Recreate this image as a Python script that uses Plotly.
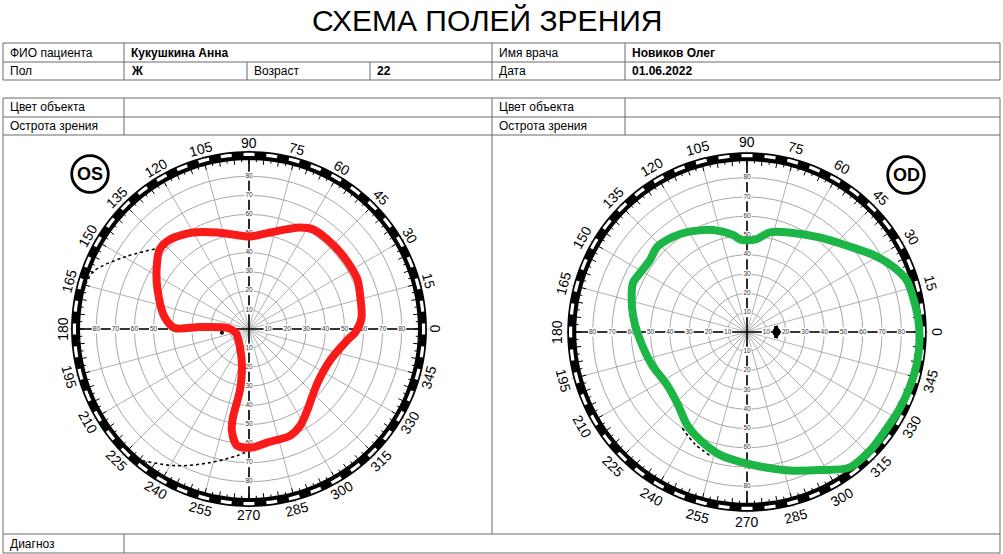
import math
import plotly.graph_objects as go

W, H = 1003, 554

# ---------------- data ----------------
TITLE = "СХЕМА ПОЛЕЙ ЗРЕНИЯ"
row1 = [("ФИО пациента", False), ("Кукушкина Анна", True), ("Имя врача", False), ("Новиков Олег", True)]
row2 = [("Пол", False), ("Ж", True), ("Возраст", False), ("22", True), ("Дата", False), ("01.06.2022", True)]
row_obj = "Цвет объекта"
row_acuity = "Острота зрения"
row_diag = "Диагноз"

angle_labels = list(range(0, 360, 15))
radial_labels = [10, 20, 30, 40, 50, 60, 70, 80]
axis_angles = [0, 90, 180, 270]

# OS (left eye) field boundary
os_theta = [89.4, 77.7, 63.2, 57.1, 48.8, 39.9, 31.5, 24.4, 14.6, 5.6, 358.4, 353.6, 339.1, 321.5,
            305.6, 298.0, 291.1, 279.0, 271.5, 264.1, 260.4, 259.7, 261.6, 259.6, 243.4, 197.0,
            177.3, 177.7, 179.2, 171.9, 156.8, 147.3, 138.4, 131.6, 120.3, 108.4, 99.7, 89.4]
os_r = [48.4, 51.7, 59.5, 62.0, 62.3, 62.4, 62.4, 62.4, 60.4, 59.2, 55.8, 51.9, 45.6, 45.7,
        52.4, 57.2, 59.8, 60.2, 62.1, 61.4, 53.9, 47.1, 32.5, 20.3, 10.6, 7.2,
        11.1, 25.8, 39.0, 44.7, 52.1, 57.5, 62.6, 62.6, 58.5, 53.3, 50.2, 48.4]
os_dot1_theta = [135, 149.4, 160.2, 166.6]
os_dot1_r = [61, 74.6, 87.2, 88.7]
os_dot2_theta = [231, 242.1, 253.7, 264.6, 270]
os_dot2_r = [88.7, 81, 72.9, 66.6, 63.7]
os_spot_theta = [188]
os_spot_r = [14.3]

# OD (right eye) field boundary
od_theta = [94, 85, 77, 67, 52, 40, 31, 24, 18, 11, 4, 357, 349, 341, 333, 325, 317, 307, 298,
            287, 275.5, 267, 257.6, 246.5, 237.2, 226.6, 213.5, 199.2, 187.1, 176.4, 167.7, 156.7,
            151.1, 143.4, 136.6, 127.9, 121, 108.4, 98.2, 94]
od_r = [48, 48, 53, 56, 62, 69, 77, 83, 87, 88, 89, 89.5, 89.5, 89, 88.5, 88, 88.5, 88, 81,
        75, 70, 67.4, 65.2, 61, 57.3, 52, 49.7, 52.1, 54.8, 58.1, 61, 64.3,
        63.3, 62.6, 64.1, 62.4, 60.4, 55.7, 50.8, 48]
od_dot_theta = [236, 245, 254]
od_dot_r = [60, 64, 67]
od_spot_theta = [348, 354, 0, 6, 12]
od_spot_r = [15.3, 15.3, 15.3, 15.3, 15.3]

# ---------------- geometry (pixels) ----------------
R_MAX = 94
R_EXT = 112
charts = [
    dict(cx=249, cy=329, s=1.91, polar="polar", xa="x", ya="y", lab_r=97.5,
         theta=os_theta, r=os_r, color="#f91a1a",
         dots=[(os_dot1_theta, os_dot1_r), (os_dot2_theta, os_dot2_r)],
         spot=(os_spot_theta, os_spot_r), badge="OS", bx=90, by=174),
    dict(cx=747, cy=332, s=1.93, polar="polar2", xa="x2", ya="y2", lab_r=98.5,
         theta=od_theta, r=od_r, color="#1db546",
         dots=[(od_dot_theta, od_dot_r)],
         spot=(od_spot_theta, od_spot_r), badge="OD", bx=906, by=175),
]


def fx(x):
    return x / W


def fy(y):
    return 1 - y / H


fig = go.Figure()
layout_extra = {}
annotations = []
shapes = []

# ring decorations
tick_r, tick_t = [], []
for k in range(144):
    a = k * 2.5
    r0 = 86.3 if k % 2 == 0 else 87.4
    tick_r += [r0, 88.6, None]
    tick_t += [a, a, None]
dash_r, dash_t = [], []
for k in range(48):
    c = k * 7.5
    for d in (-1.8, -0.9, 0, 0.9, 1.8):
        dash_r.append(91.4)
        dash_t.append(c + d)
    dash_r.append(None)
    dash_t.append(None)
ring_t = list(range(0, 362, 2))
ring_r = [90.8] * len(ring_t)

cross_r, cross_t = [], []
for a in axis_angles:
    cross_r += [0, 88.6, None]
    cross_t += [a, a, None]

lab_r, lab_t, lab_txt = [], [], []
for a in axis_angles:
    for v in radial_labels:
        lab_r.append(v)
        lab_t.append(a)
        lab_txt.append(str(v))

for ch in charts:
    sp = ch["polar"]
    common = dict(subplot=sp, showlegend=False, hoverinfo="skip")
    fig.add_trace(go.Scatterpolar(r=cross_r, theta=cross_t, mode="lines",
                                  line=dict(color="black", width=1.6), **common))
    fig.add_trace(go.Scatterpolar(r=lab_r, theta=lab_t, mode="markers+text", text=lab_txt,
                                  textposition="middle center",
                                  textfont=dict(size=6.5, color="#333333", family="Liberation Sans"),
                                  marker=dict(symbol="square", size=9, color="white"), **common))
    fig.add_trace(go.Scatterpolar(r=tick_r, theta=tick_t, mode="lines",
                                  line=dict(color="black", width=1), **common))
    fig.add_trace(go.Scatterpolar(r=ring_r, theta=ring_t, mode="lines",
                                  line=dict(color="black", width=9), **common))
    fig.add_trace(go.Scatterpolar(r=dash_r, theta=dash_t, mode="lines",
                                  line=dict(color="white", width=3.2), **common))
    for dt, dr in ch["dots"]:
        fig.add_trace(go.Scatterpolar(r=dr, theta=dt, mode="lines",
                                      line=dict(color="black", width=1.6, dash="dot", shape="spline"),
                                      **common))
    fig.add_trace(go.Scatterpolar(r=ch["r"], theta=ch["theta"], mode="lines",
                                  line=dict(color=ch["color"], width=8, shape="spline", smoothing=0.8),
                                  **common))
    st, srr = ch["spot"]
    if len(st) > 1:
        fig.add_trace(go.Scatterpolar(r=srr, theta=st, mode="lines",
                                      line=dict(color="black", width=4), **common))
        fig.add_trace(go.Scatterpolar(r=[srr[len(srr) // 2]], theta=[st[len(st) // 2]], mode="markers",
                                      marker=dict(color="black", size=8), **common))
    else:
        fig.add_trace(go.Scatterpolar(r=srr, theta=st, mode="markers",
                                      marker=dict(color="black", size=4), **common))

    cx, cy, s = ch["cx"], ch["cy"], ch["s"]
    hp = R_MAX * s
    layout_extra[sp] = dict(
        domain=dict(x=[fx(cx - hp), fx(cx + hp)], y=[fy(cy + hp), fy(cy - hp)]),
        bgcolor="rgba(0,0,0,0)",
        radialaxis=dict(range=[0, R_MAX], tickvals=radial_labels, showticklabels=False, ticks="",
                        showline=False, gridcolor="#a8a8a8", gridwidth=0.9),
        angularaxis=dict(tickvals=angle_labels, showticklabels=False, ticks="", showline=False,
                         gridcolor="#b0b0b0", gridwidth=0.9),
    )
    he = R_EXT * s
    xa_name = "xaxis" if ch["xa"] == "x" else "xaxis2"
    ya_name = "yaxis" if ch["ya"] == "y" else "yaxis2"
    layout_extra[xa_name] = dict(domain=[fx(cx - he), fx(cx + he)], range=[-R_EXT, R_EXT],
                                 visible=False, fixedrange=True)
    layout_extra[ya_name] = dict(domain=[fy(cy + he), fy(cy - he)], range=[-R_EXT, R_EXT],
                                 visible=False, fixedrange=True)
    fig.add_trace(go.Scatter(x=[], y=[], xaxis=ch["xa"], yaxis=ch["ya"], showlegend=False))

    for a in angle_labels:
        rad = math.radians(a)
        ang = 90 - a if a <= 180 else 270 - a
        annotations.append(dict(x=ch["lab_r"] * math.cos(rad), y=ch["lab_r"] * math.sin(rad),
                                xref=ch["xa"], yref=ch["ya"], text=str(a), showarrow=False,
                                textangle=ang, xanchor="center", yanchor="middle",
                                font=dict(size=14, color="black", family="Liberation Sans")))
    # badge
    br = 18.3
    shapes.append(dict(type="circle", xref="paper", yref="paper",
                       x0=fx(ch["bx"] - br), x1=fx(ch["bx"] + br),
                       y0=fy(ch["by"] + br), y1=fy(ch["by"] - br),
                       line=dict(color="black", width=2.8)))
    annotations.append(dict(x=fx(ch["bx"]), y=fy(ch["by"]), xref="paper", yref="paper",
                            text="<b>%s</b>" % ch["badge"], showarrow=False,
                            xanchor="center", yanchor="middle",
                            font=dict(size=18, color="black", family="Liberation Sans")))

# ---------------- table ----------------
LC = "#6a6a6a"


def hline(y, x0=3, x1=1000):
    shapes.append(dict(type="line", xref="paper", yref="paper", x0=fx(x0), x1=fx(x1),
                       y0=fy(y), y1=fy(y), line=dict(color=LC, width=1)))


def vline(x, y0, y1):
    shapes.append(dict(type="line", xref="paper", yref="paper", x0=fx(x), x1=fx(x),
                       y0=fy(y0), y1=fy(y1), line=dict(color=LC, width=1)))


for y in (43, 62, 80):
    hline(y)
for x in (3, 124, 492, 625, 1000):
    vline(x, 43, 80)
for x in (247, 370):
    vline(x, 62, 80)
for y in (98, 117, 135, 534, 553):
    hline(y)
vline(3, 98, 553)
vline(1000, 98, 553)
vline(124, 98, 135)
vline(124, 534, 553)
vline(625, 98, 135)
vline(492, 98, 534)


def cell_text(txt, x, y, bold=False):
    annotations.append(dict(x=fx(x), y=fy(y), xref="paper", yref="paper",
                            text=("<b>%s</b>" % txt) if bold else txt, showarrow=False,
                            xanchor="left", yanchor="middle",
                            font=dict(size=12, color="black", family="Liberation Sans")))


for (txt, b), x in zip(row1, (8, 129, 497, 630)):
    cell_text(txt, x, 52.5, b)
for (txt, b), x in zip(row2, (8, 129, 252, 375, 497, 630)):
    cell_text(txt, x, 71, b)
for x in (8, 497):
    cell_text(row_obj, x, 107.5)
    cell_text(row_acuity, x, 126)
cell_text(row_diag, 8, 544)

annotations.append(dict(x=fx(487), y=fy(21), xref="paper", yref="paper", text=TITLE,
                        showarrow=False, xanchor="center", yanchor="middle",
                        font=dict(size=30, color="black", family="Liberation Sans")))

fig.update_layout(
    width=W, height=H, autosize=False, template="none",
    margin=dict(l=0, r=0, t=0, b=0),
    paper_bgcolor="white", plot_bgcolor="rgba(0,0,0,0)",
    showlegend=False, annotations=annotations, shapes=shapes,
    **layout_extra,
)

fig.write_html("out.html")
